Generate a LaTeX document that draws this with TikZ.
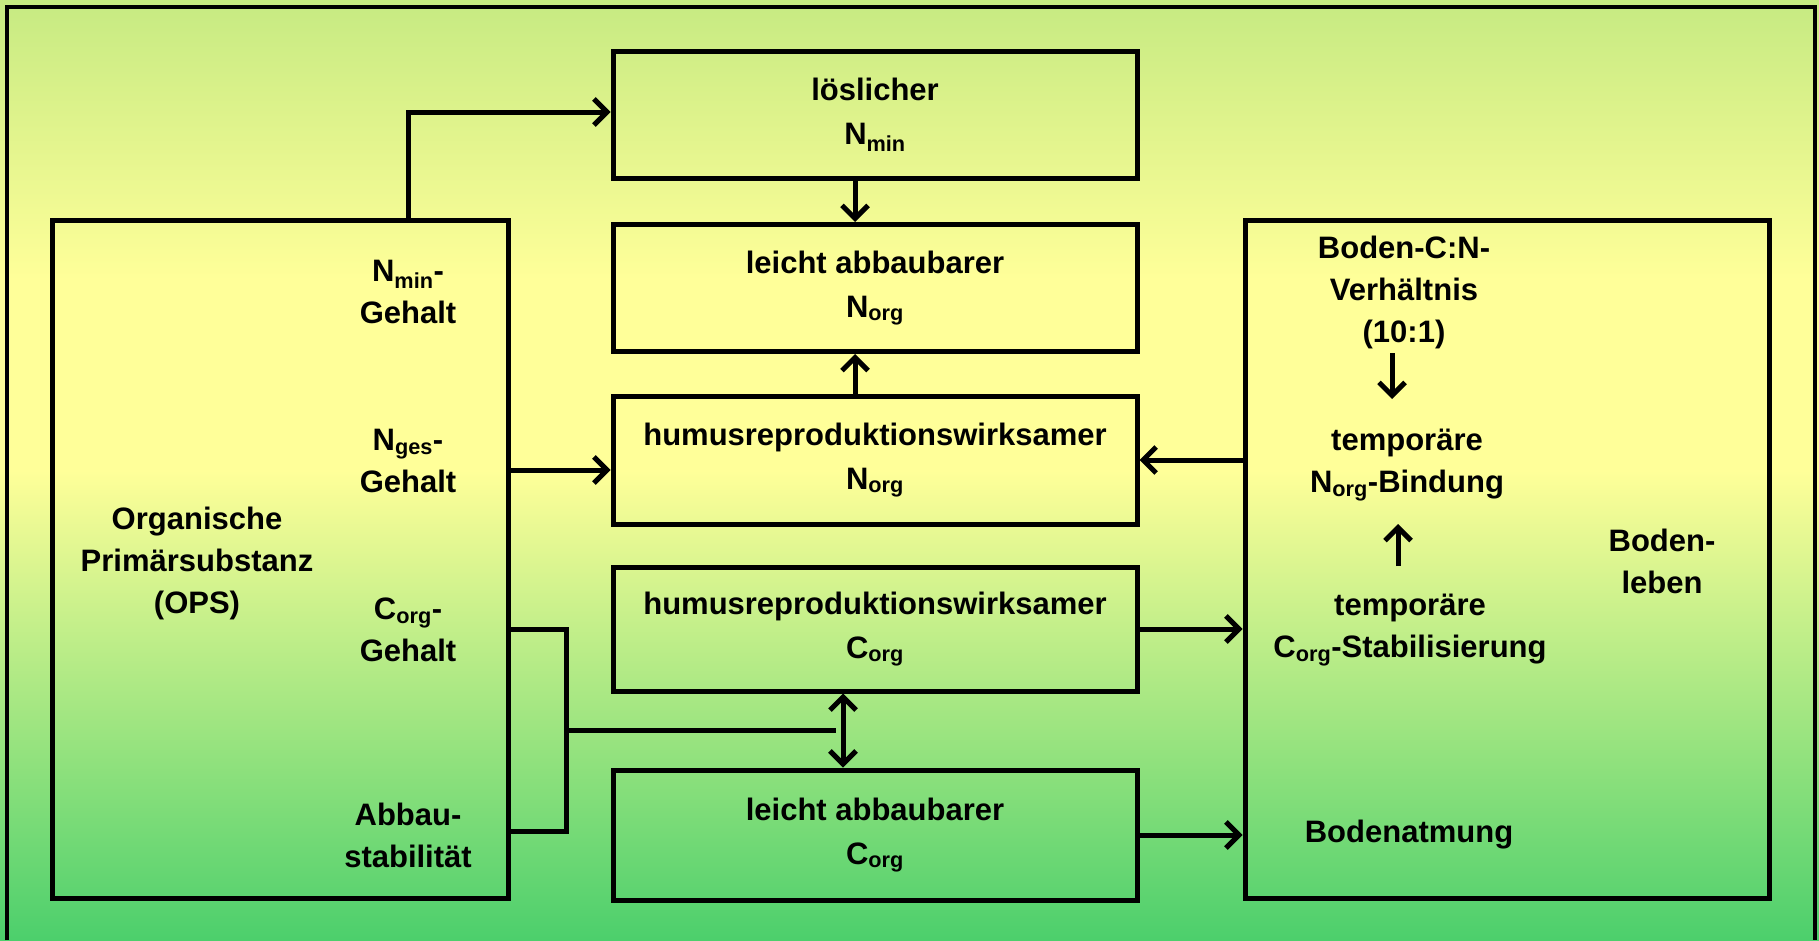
\documentclass[tikz,border=0pt]{standalone}
\usepackage{fontspec}
\setmainfont{Liberation Sans}
\usetikzlibrary{arrows.meta,calc}
\newcommand{\sbs}[1]{\textsubscript{#1}}
\definecolor{bgtop}{HTML}{C6EA82}
\definecolor{bgyel}{HTML}{FFFF99}
\definecolor{bggrn}{HTML}{4CCF6C}
\begin{document}
\begin{tikzpicture}[x=1pt,y=-1pt,
  box/.style={draw,line width=5pt,minimum width=524pt,inner sep=0pt,align=center,
    font=\bfseries\fontsize{31}{44}\selectfont},
  sidebox/.style={draw,line width=5pt,inner sep=0pt,minimum height=678pt},
  txt/.style={align=center,inner sep=0pt,font=\bfseries\fontsize{31}{42}\selectfont},
  tip/.tip={Straight Barb[length=13pt,width=26pt]},
  arr/.style={line width=5pt,-tip},
  dbl/.style={line width=5pt,tip-tip},
  ln/.style={line width=5pt}]
\useasboundingbox (0,0) rectangle (1819,940);
% background
\fill[top color=bgtop,bottom color=bgyel] (0,0) rectangle (1819,280);
\fill[bgyel] (0,279) rectangle (1819,471);
\fill[top color=bgyel,bottom color=bggrn] (0,470) rectangle (1819,940);
\draw[line width=4.5pt] (7,940) -- (7,7) -- (1815,7) -- (1815,940);

% side boxes
\node[sidebox,minimum width=456pt] (ops) at (280,559) {};
\node[sidebox,minimum width=524pt] (bl) at (1507,559) {};

% middle boxes
\node[box,minimum height=127pt] (lmin) at (875,115) {löslicher\\N\sbs{min}};
\node[box,minimum height=127pt] (lN) at (875,288) {leicht abbaubarer\\N\sbs{org}};
\node[box,minimum height=128pt] (hN) at (875,460) {humusreproduktionswirksamer\\N\sbs{org}};
\node[box,minimum height=124pt] (hC) at (875,629) {humusreproduktionswirksamer\\C\sbs{org}};
\node[box,minimum height=130pt] (lC) at (875,835) {leicht abbaubarer\\C\sbs{org}};

% OPS texts
\node[txt] (nmin) at (408,292) {N\sbs{min}-\\Gehalt};
\node[txt] (nges) at (408,461) {N\sbs{ges}-\\Gehalt};
\node[txt] (corg) at (408,630) {C\sbs{org}-\\Gehalt};
\node[txt] (abbau) at (408,835) {Abbau-\\stabilität};
\node[txt] (opsl) at (197,563) {Organische\\Primärsubstanz\\(OPS)};

% Bodenleben texts
\node[txt] (cn) at (1404,292) {Boden-C:N-\\Verhältnis\\(10:1)};
\node[txt] (tn) at (1407,465) {temporäre\\N\sbs{org}-Bindung};
\node[txt] (tc) at (1410,630) {temporäre\\C\sbs{org}-Stabilisierung};
\node[txt] (atm) at (1409,835) {Bodenatmung};
\node[txt] (bleb) at (1662,561) {Boden-\\leben};

% inner arrows
\coordinate (da) at (1392,353);
\coordinate (db) at (1392,399);
\coordinate (ua) at (1398,566);
\coordinate (ub) at (1398,524);
\draw[arr] (da) -- (db);
\draw[arr] (ua) -- (ub);

% connectors
\draw[arr] (ops.north -| nmin) |- ([yshift=3pt]lmin.west);
\draw[arr] ([xshift=-20pt]lmin.south) -- ([xshift=-20pt]lN.north);
\draw[arr] ([xshift=-20pt]hN.north) -- ([xshift=-20pt]lN.south);
\coordinate (g) at ($(nges)+(0,9)$);
\draw[arr] (ops.east |- g) -- (hN.west |- g);
\draw[arr] (bl.west |- hN.east) -- (hN.east);
\draw[arr] (hC.east) -- (bl.west |- hC.east);
\draw[arr] (lC.east) -- (bl.west |- lC.east);

% bracket
\coordinate (b1) at (566,629);
\coordinate (b2) at (566,831);
\draw[ln] (ops.east |- b1) -- (b1) -- (b2) -- (ops.east |- b2);
\coordinate (bm) at ($(b1)!0.5!(b2)$);
\coordinate (dx) at ([xshift=-39pt]lC.north);
\draw[ln] (bm) -- (dx |- bm);
\draw[dbl] ([xshift=-32pt]hC.south) -- ([xshift=-32pt]lC.north);
\end{tikzpicture}
\end{document}
